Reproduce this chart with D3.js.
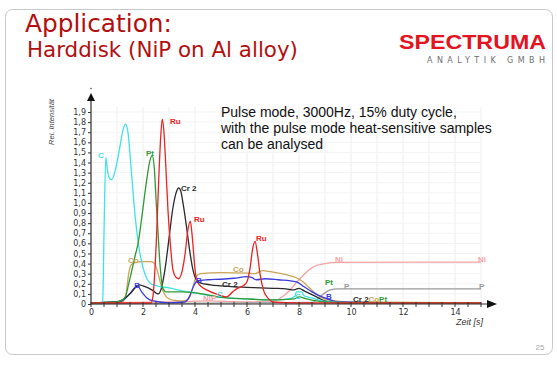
<!DOCTYPE html>
<html><head><meta charset="utf-8">
<script src="https://cdn.jsdelivr.net/npm/d3@7/dist/d3.min.js"></script>
<style>body{margin:0;background:#fff}svg{display:block}</style>
</head><body>
<svg id="chart" width="557" height="365"></svg>
<script>
// ---------- data ----------
const xTickLabels = [0, 2, 4, 6, 8, 10, 12, 14];
const yTickValues = [0,0.1,0.2,0.3,0.4,0.5,0.6,0.7,0.8,0.9,1.0,1.1,1.2,1.3,1.4,1.5,1.6,1.7,1.8,1.9];
const seriesNames = ["Ni", "P", "Co", "B", "Cr 2", "C", "Pt", "Ru"];
const seriesColors = ["#f4a3a3", "#9a9a9a", "#c9a458", "#3b3bdc", "#2a2a2a", "#40e2e6", "#2f9a35", "#ea2323"];

const seriesC = [[0,0.005],[0.4,0.005],[0.45,0.03],[0.5,0.7],[0.57,1.45],[0.63,1.33],[0.72,1.24],[0.8,1.23],[0.95,1.34],[1.1,1.54],[1.25,1.74],[1.33,1.78],[1.42,1.7],[1.55,1.32],[1.7,0.86],[1.85,0.55],[2.0,0.36],[2.15,0.25],[2.3,0.2],[2.6,0.175],[3.0,0.16],[3.5,0.13],[4.0,0.11],[4.5,0.085],[5.0,0.065],[6,0.05],[7,0.04],[7.6,0.05],[7.85,0.08],[7.9,0.12],[8.1,0.12],[8.2,0.08],[8.5,0.06],[9,0.025],[10,0.012],[15,0.01]];
const seriesPt = [[0,0.01],[1.0,0.02],[1.2,0.04],[1.3,0.06],[1.45,0.2],[1.55,0.31],[1.7,0.48],[1.81,0.6],[1.95,0.85],[2.1,1.15],[2.25,1.4],[2.35,1.47],[2.43,1.36],[2.51,1.0],[2.58,0.7],[2.64,0.44],[2.7,0.26],[2.77,0.15],[2.9,0.12],[3.5,0.12],[4.0,0.11],[4.5,0.09],[5,0.065],[6,0.05],[7,0.04],[7.8,0.05],[8,0.07],[8.3,0.05],[9,0.02],[10,0.012],[15,0.01]];
const seriesRu = [[0,0.01],[2.3,0.01],[2.38,0.07],[2.45,0.3],[2.51,0.6],[2.6,1.2],[2.68,1.65],[2.74,1.83],[2.8,1.72],[2.88,1.35],[2.96,0.93],[3.05,0.6],[3.15,0.34],[3.25,0.27],[3.37,0.25],[3.5,0.32],[3.62,0.5],[3.72,0.72],[3.82,0.82],[3.9,0.65],[3.99,0.37],[4.06,0.24],[4.25,0.17],[4.45,0.14],[4.8,0.1],[5.2,0.07],[5.45,0.12],[5.6,0.15],[5.85,0.18],[6.0,0.22],[6.12,0.36],[6.22,0.55],[6.31,0.62],[6.4,0.5],[6.5,0.3],[6.63,0.14],[6.8,0.06],[7.0,0.02],[8,0.01],[15,0.01]];
const seriesCr2 = [[0,0.01],[0.9,0.02],[1.2,0.04],[1.5,0.1],[1.7,0.16],[1.85,0.19],[2.0,0.18],[2.2,0.16],[2.4,0.13],[2.58,0.1],[2.7,0.15],[2.85,0.35],[3.0,0.65],[3.15,0.95],[3.3,1.12],[3.37,1.15],[3.45,1.12],[3.55,0.98],[3.67,0.77],[3.8,0.52],[3.92,0.34],[4.05,0.24],[4.2,0.21],[4.6,0.19],[5.0,0.18],[5.5,0.17],[6,0.165],[6.5,0.16],[7.0,0.155],[7.5,0.15],[7.8,0.14],[8.0,0.155],[8.2,0.13],[8.6,0.08],[9,0.03],[9.5,0.012],[15,0.008]];
const seriesCo = [[0,0.01],[1.2,0.02],[1.35,0.1],[1.45,0.3],[1.55,0.39],[1.7,0.41],[2.0,0.42],[2.3,0.42],[2.45,0.4],[2.55,0.33],[2.64,0.24],[2.75,0.14],[2.9,0.07],[3.1,0.04],[3.5,0.03],[3.75,0.05],[3.9,0.15],[4.05,0.27],[4.2,0.3],[5,0.31],[6,0.305],[6.3,0.3],[6.6,0.33],[6.9,0.32],[7.5,0.29],[7.9,0.26],[8.1,0.23],[8.4,0.16],[8.7,0.09],[9.0,0.05],[9.4,0.03],[10,0.02],[15,0.012]];
const seriesB = [[0,0.01],[1.1,0.02],[1.3,0.05],[1.55,0.12],[1.78,0.18],[1.95,0.12],[2.15,0.06],[2.4,0.03],[3,0.012],[3.6,0.02],[3.8,0.08],[3.95,0.18],[4.1,0.23],[4.5,0.24],[5.0,0.245],[5.5,0.255],[6.0,0.27],[6.2,0.26],[6.35,0.24],[6.7,0.25],[7.2,0.24],[7.9,0.22],[8.2,0.17],[8.5,0.12],[8.8,0.08],[9.1,0.05],[9.5,0.02],[15,0.006]];
const seriesNi = [[0,0.01],[3,0.02],[4.5,0.03],[6,0.02],[7,0.03],[7.5,0.1],[8,0.24],[8.5,0.36],[9,0.4],[9.5,0.412],[15,0.415]];
const seriesP = [[0,0.005],[8.5,0.015],[8.8,0.07],[9.2,0.14],[9.5,0.15],[15,0.15]];

const labelTexts  = ["C","Pt","Ru","Cr 2","Ru","Co","B","B","Cr 2","Co","C","NiP","Ru","C","Pt","B","Cr 2","Co","Pt","Ni","Ni","P","P"];
const labelSeries = ["C","Pt","Ru","Cr 2","Ru","Co","B","B","Cr 2","Co","C","Ni","Ru","C","Pt","B","Cr 2","Co","Pt","Ni","Ni","P","P"];
const labelT = [0.385,2.27,3.04,3.46,3.96,1.42,1.77,4.15,5.04,5.46,4.96,4.31,6.35,7.96,9.0,9.15,10.08,10.67,11.08,9.38,14.88,9.73,14.92];
const labelV = [1.445,1.465,1.78,1.12,0.81,0.405,0.158,0.208,0.168,0.317,0.069,0.03,0.62,0.05,0.188,0.05,0.02,0.02,0.02,0.416,0.416,0.148,0.148];
const labelAnchor = ["middle","middle","start","start","start","start","middle","middle","start","start","middle","start","start","middle","start","middle","start","start","start","start","start","start","start"];

const seriesData = {"C":seriesC,"Pt":seriesPt,"Ru":seriesRu,"Cr 2":seriesCr2,"Co":seriesCo,"B":seriesB,"Ni":seriesNi,"P":seriesP};

// ---------- drawing ----------
const svg = d3.select("#chart");
svg.append("rect").attr("x",5.5).attr("y",9.5).attr("width",547).attr("height",345).attr("rx",7)
  .attr("fill","#fff").attr("stroke","#c8c8c8").attr("stroke-width",1);

svg.append("text").attr("x",25).attr("y",32).attr("fill","#b30f0f")
  .style("font-family","'DejaVu Sans',Verdana,sans-serif").style("font-size","24.8px").text("Application:");
svg.append("text").attr("x",27).attr("y",57).attr("fill","#b30f0f")
  .style("font-family","'DejaVu Sans',Verdana,sans-serif").style("font-size","21.4px").text("Harddisk (NiP on Al alloy)");

svg.append("text").attr("x",399).attr("y",49).attr("fill","#e3131f").attr("textLength",147).attr("lengthAdjust","spacingAndGlyphs")
  .style("font-family","'Liberation Sans',Arial,sans-serif").style("font-weight","bold").style("font-size","19.5px").text("SPECTRUMA");
svg.append("text").attr("x",427).attr("y",63).attr("fill","#6f6f6f").attr("textLength",118).attr("lengthAdjust","spacing")
  .style("font-family","'DejaVu Sans',sans-serif").style("font-size","8px").text("ANALYTIK GMBH");

svg.append("text").attr("x",540).attr("y",350).attr("text-anchor","middle").attr("fill","#aaa")
  .style("font-family","'Liberation Sans',Arial,sans-serif").style("font-size","8px").text("25");

const x = d3.scaleLinear().domain([0,15]).range([91,481]);
const y = d3.scaleLinear().domain([0,1.9]).range([304,112]);

// grid
const g = svg.append("g");
const gridX = d3.range(0,16,1);
const gridY = d3.range(0,20,1).map(d=>d/10);
g.selectAll("line.gx").data(gridX).join("line").attr("class","gx")
  .attr("x1",d=>x(d)).attr("x2",d=>x(d)).attr("y1",y(0)).attr("y2",y(1.95))
  .attr("stroke","#eeeeee").attr("stroke-width",1);
g.selectAll("line.gy").data(gridY).join("line").attr("class","gy")
  .attr("x1",x(0)).attr("x2",x(15)).attr("y1",d=>y(d)).attr("y2",d=>y(d))
  .attr("stroke","#f3f3f3").attr("stroke-width",1);

// annotation text
const ann = ["Pulse mode, 3000Hz, 15% duty cycle,","with the pulse mode heat-sensitive samples","can be analysed"];
svg.append("text").style("font-family","'Liberation Sans',Arial,sans-serif").style("font-size","14px").attr("fill","#111")
  .selectAll("tspan").data(ann).join("tspan").attr("x",221).attr("y",(d,i)=>116.5+i*16).text(d=>d);

// lines
const line = d3.line().x(d=>x(d[0])).y(d=>y(d[1])).curve(d3.curveMonotoneX);
seriesNames.forEach((n,i)=>{
  svg.append("path").datum(seriesData[n]).attr("d",line).attr("fill","none")
    .attr("stroke",seriesColors[i]).attr("stroke-width",1.3).attr("stroke-linejoin","round");
});

// axes
const axisColor = "#333";
const yAxis = d3.axisLeft(y).tickValues(yTickValues).tickSize(3).tickPadding(2)
  .tickFormat(d=> d===0 ? "0" : d3.format(".1f")(d).replace(".",","));
const ya = svg.append("g").attr("transform",`translate(${x(0)},0)`).call(yAxis);
ya.select(".domain").remove();
ya.selectAll("text").style("font-family","'DejaVu Sans',Verdana,sans-serif").style("font-size","8px").attr("fill","#333");
ya.selectAll("line").attr("stroke",axisColor);
svg.append("line").attr("x1",x(0)).attr("x2",x(0)).attr("y1",y(0)).attr("y2",99).attr("stroke",axisColor).attr("stroke-width",1.2);
svg.append("path").attr("d",`M${x(0)-4},${101}L${x(0)},${93}L${x(0)+4},${101}Z`).attr("fill","#111");
svg.append("circle").attr("cx",x(0)).attr("cy",88.5).attr("r",0.8).attr("fill","#555");

const xMinor = d3.range(0,30.5,1).map(d=>d/2);
const xAxis = d3.axisBottom(x).tickValues(xTickLabels).tickSize(0).tickPadding(5);
const xa = svg.append("g").attr("transform",`translate(0,${y(0)})`).call(xAxis);
xa.select(".domain").remove();
xa.selectAll("text").style("font-family","'DejaVu Sans',Verdana,sans-serif").style("font-size","8px").attr("fill","#333");
svg.selectAll("line.xt").data(xMinor).join("line").attr("class","xt")
  .attr("x1",d=>x(d)).attr("x2",d=>x(d)).attr("y1",y(0)-2).attr("y2",y(0)+3).attr("stroke",axisColor);
svg.append("line").attr("x1",x(0)).attr("x2",489).attr("y1",y(0)).attr("y2",y(0)).attr("stroke",axisColor).attr("stroke-width",1.2);
svg.append("path").attr("d",`M487,${y(0)-4}L497,${y(0)}L487,${y(0)+4}Z`).attr("fill","#111");

svg.append("text").attr("transform","translate(54,122) rotate(-90)").attr("text-anchor","middle").attr("fill","#444")
  .style("font-family","'Liberation Sans',Arial,sans-serif").style("font-style","italic").style("font-size","7.5px").text("Rel. Intensität");
svg.append("text").attr("x",483).attr("y",324.5).attr("text-anchor","end").attr("fill","#333")
  .style("font-family","'Liberation Sans',Arial,sans-serif").style("font-style","italic").style("font-size","9px").text("Zeit [s]");

// labels
labelTexts.forEach((t,i)=>{
  const ci = seriesNames.indexOf(labelSeries[i]);
  svg.append("text").attr("x",x(labelT[i])).attr("y",y(labelV[i])).attr("text-anchor",labelAnchor[i])
    .attr("fill",seriesColors[ci]).style("font-family","'Liberation Sans',Arial,sans-serif")
    .style("font-weight","bold").style("font-size","8px").text(t);
});
</script>
</body></html>
